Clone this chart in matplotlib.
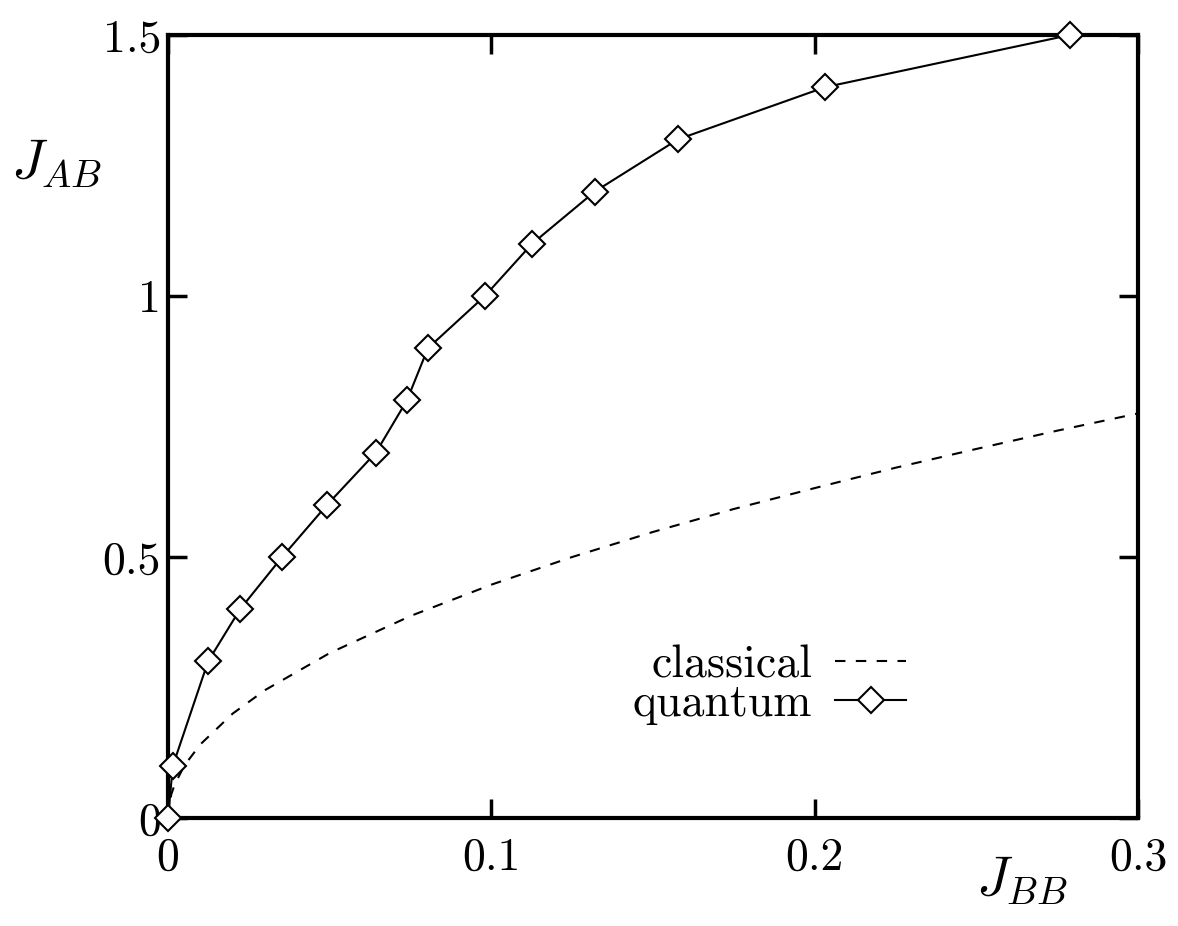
import matplotlib.pyplot as plt

plt.rcParams['mathtext.fontset'] = 'cm'
plt.rcParams['font.family'] = 'cmr10'
plt.rcParams['axes.formatter.use_mathtext'] = True

# quantum data
q_jbb = [0.0, 0.0015, 0.0124, 0.0223, 0.0353, 0.0492, 0.0643, 0.0739, 0.0804,
         0.098, 0.1126, 0.132, 0.1577, 0.2032, 0.279]
q_jab = [0.0, 0.1, 0.3, 0.4, 0.5, 0.6, 0.7, 0.8, 0.9, 1.0, 1.1, 1.2, 1.3, 1.4, 1.5]

# classical curve
c_jbb = [0.0, 0.001, 0.002, 0.005, 0.01, 0.02, 0.03, 0.05, 0.075, 0.1, 0.125,
         0.15, 0.175, 0.2, 0.225, 0.25, 0.275, 0.3]
c_jab = [0.0, 0.045, 0.063, 0.1, 0.141, 0.2, 0.245, 0.316, 0.387, 0.447, 0.5,
         0.548, 0.592, 0.632, 0.671, 0.707, 0.742, 0.775]

xticks = [0, 0.1, 0.2, 0.3]
xtick_labels = ['0', '0.1', '0.2', '0.3']
yticks = [0, 0.5, 1, 1.5]
ytick_labels = ['0', '0.5', '1', '1.5']

fig = plt.figure(figsize=(11.78, 9.26), dpi=100)
ax = fig.add_axes([0.1426, 0.1166, 0.8234, 0.8456])

ax.plot(c_jbb, c_jab, color='black', linestyle=(0, (5, 5)), linewidth=1.5,
        label='classical')
ax.plot(q_jbb, q_jab, color='black', linestyle='-', linewidth=1.5,
        marker='D', markersize=13, markerfacecolor='white',
        markeredgecolor='black', markeredgewidth=1.5, clip_on=False,
        zorder=5, label='quantum')

ax.set_xlim(0, 0.3)
ax.set_ylim(0, 1.5)
ax.set_xticks(xticks)
ax.set_xticklabels(xtick_labels)
ax.set_yticks(yticks)
ax.set_yticklabels(ytick_labels)
ax.tick_params(direction='in', length=14, width=2.5, labelsize=33,
               top=True, right=True)
ax.tick_params(axis='x', pad=14)
ax.tick_params(axis='y', pad=5)
for s in ax.spines.values():
    s.set_linewidth(3)

ax.text(-0.115, 0.835, r'$J_{AB}$', transform=ax.transAxes, fontsize=40,
        ha='center', va='center')
ax.text(0.88, -0.08, r'$J_{BB}$', transform=ax.transAxes, fontsize=40,
        ha='center', va='center')

ax.legend(loc='center', bbox_to_anchor=(0.62, 0.17), frameon=False,
          markerfirst=False, fontsize=33, handlelength=1.55,
          handletextpad=0.5, labelspacing=-0.05)

fig.savefig('out.png', dpi=100)
